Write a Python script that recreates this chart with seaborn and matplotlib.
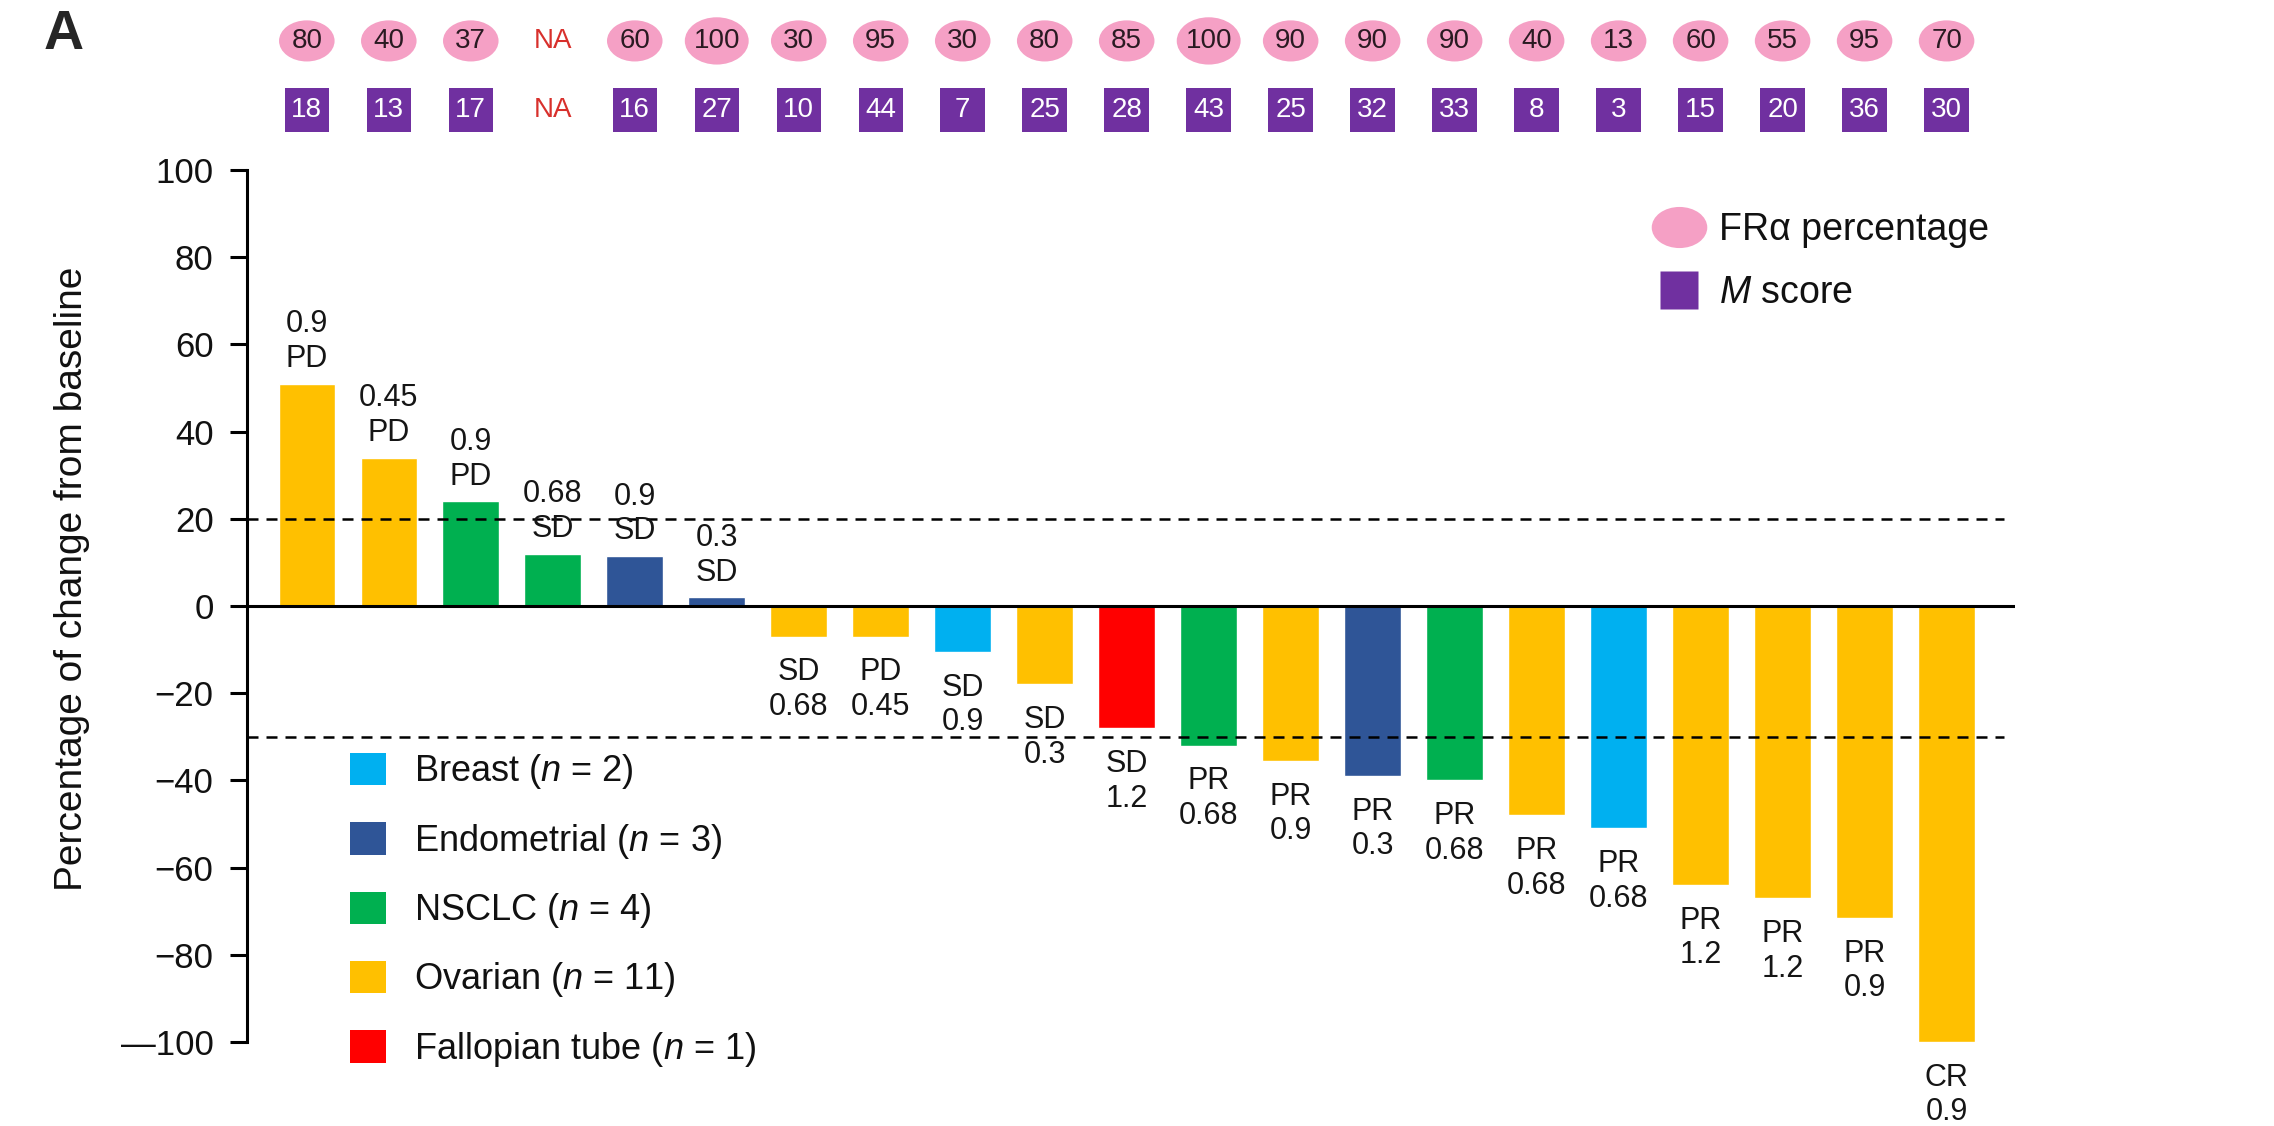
import matplotlib
matplotlib.use("Agg")
import matplotlib.pyplot as plt
from matplotlib.path import Path
from matplotlib.transforms import Affine2D
from matplotlib.patches import Patch
from matplotlib.lines import Line2D
import numpy as np
import pandas as pd
import seaborn as sns

# per-patient data, left to right
cancer = ['Ovarian', 'Ovarian', 'NSCLC', 'NSCLC', 'Endometrial', 'Endometrial',
          'Ovarian', 'Ovarian', 'Breast', 'Ovarian', 'Fallopian tube', 'NSCLC',
          'Ovarian', 'Endometrial', 'NSCLC', 'Ovarian', 'Breast', 'Ovarian',
          'Ovarian', 'Ovarian', 'Ovarian']
change = [51, 34, 24, 12, 11.5, 2, -7, -7, -10.5, -18, -28, -32, -35.5, -39,
          -40, -48, -51, -64, -67, -71.5, -100]
response = ['PD', 'PD', 'PD', 'SD', 'SD', 'SD', 'SD', 'PD', 'SD', 'SD', 'SD',
            'PR', 'PR', 'PR', 'PR', 'PR', 'PR', 'PR', 'PR', 'PR', 'CR']
dose = ['0.9', '0.45', '0.9', '0.68', '0.9', '0.3', '0.68', '0.45', '0.9', '0.3',
        '1.2', '0.68', '0.9', '0.3', '0.68', '0.68', '0.68', '1.2', '1.2', '0.9', '0.9']
fra_pct = ['80', '40', '37', 'NA', '60', '100', '30', '95', '30', '80', '85',
           '100', '90', '90', '90', '40', '13', '60', '55', '95', '70']
m_score = ['18', '13', '17', 'NA', '16', '27', '10', '44', '7', '25', '28',
           '43', '25', '32', '33', '8', '3', '15', '20', '36', '30']

cancer_order = ['Breast', 'Endometrial', 'NSCLC', 'Ovarian', 'Fallopian tube']
cancer_n = [2, 3, 4, 11, 1]
cancer_colors = ['#00B0F0', '#2F5597', '#00B050', '#FFC000', '#FF0000']

ytick_vals = [-100, -80, -60, -40, -20, 0, 20, 40, 60, 80, 100]
ytick_labels = ['\u2014100', '\u221280', '\u221260', '\u221240', '\u221220',
                '0', '20', '40', '60', '80', '100']
thresholds = [20, -30]

sns.set_theme(style='white')
plt.rcParams['font.family'] = ['Liberation Sans', 'DejaVu Sans']
plt.rcParams['mathtext.fontset'] = 'custom'
plt.rcParams['mathtext.rm'] = 'Liberation Sans'
plt.rcParams['mathtext.it'] = 'Liberation Sans:italic'

df = pd.DataFrame({'patient': [str(i + 1) for i in range(len(change))],
                   'change': change, 'cancer': cancer})
pal = dict(zip(cancer_order, cancer_colors))

fig = plt.figure(figsize=(22.74, 11.26), dpi=100)
ax = fig.add_axes([0.1086, 0.0746, 0.7777, 0.7744])
sns.barplot(data=df, x='patient', y='change', hue='cancer', hue_order=cancer_order,
            palette=pal, dodge=False, width=0.69, saturation=1, legend=False, ax=ax)

xlim = (-0.73, 20.84)
ax.set_xlim(xlim)
ax.set_ylim(-100, 100)
ax.set_xticks([])
ax.set_xlabel('')
ax.set_yticks(ytick_vals)
ax.set_yticklabels(ytick_labels)
ax.tick_params(axis='y', left=True, length=12, width=2.2, labelsize=25, color='black',
               labelcolor='#111111', pad=12)
sns.despine(ax=ax, bottom=True)
ax.spines['left'].set_linewidth(2.2)
ax.spines['left'].set_color('black')
ax.set_ylabel('Percentage of change from baseline', fontsize=28, color='#111111')
ax.yaxis.set_label_coords(-0.089, 0.531)

ax.axhline(0, color='black', lw=2.2, zorder=3)
ax.hlines(thresholds, xlim[0], 20.7, colors='black', lw=1.8,
          linestyles=(0, (4.4, 3.2)), zorder=1)

# response / dose labels
for i, v in enumerate(change):
    if v >= 0:
        txt, va, off = f'{dose[i]}\n{response[i]}', 'bottom', 7
    else:
        txt, va, off = f'{response[i]}\n{dose[i]}', 'top', -15
    ax.annotate(txt, (i, v), xytext=(0, off), textcoords='offset points', ha='center',
                va=va, fontsize=22, linespacing=1.2, annotation_clip=False, color='#151515')

# top rows: FRa percentage ellipses and M score squares
ellipse = Path.unit_circle().transformed(Affine2D().scale(1, 0.74))
ax_top = fig.add_axes([0.1086, 0.867, 0.7777, 0.133])
ax_top.set_xlim(xlim)
ax_top.set_ylim(-0.58, 1.594)
ax_top.axis('off')
na_color = '#D8302C'
for i in np.arange(len(fra_pct)):
    if fra_pct[i] == 'NA':
        ax_top.text(i, 1, 'NA', ha='center', va='center', fontsize=20, color=na_color)
    else:
        w = 46 if len(fra_pct[i]) > 2 else 40
        ax_top.scatter([i], [1], s=w ** 2, marker=ellipse, color='#F5A0C5', edgecolors='none')
        ax_top.text(i, 1, fra_pct[i], ha='center', va='center', fontsize=20, color='#2a1a22')
    if m_score[i] == 'NA':
        ax_top.text(i, 0, 'NA', ha='center', va='center', fontsize=20, color=na_color)
    else:
        ax_top.scatter([i], [0], s=32 ** 2, marker='s', color='#7030A0', edgecolors='none')
        ax_top.text(i, 0, m_score[i], ha='center', va='center', fontsize=20, color='white')

# legends
top_handles = [Line2D([], [], ls='', marker=ellipse, markersize=40, color='#F5A0C5', mec='none'),
               Line2D([], [], ls='', marker='s', markersize=28, color='#7030A0', mec='none')]
leg1 = ax.legend(top_handles, ['FR\u03b1 percentage', '$M$ score'], loc='upper left',
                 bbox_to_anchor=(0.7263, 0.8115), bbox_transform=fig.transFigure,
                 frameon=False, fontsize=27, borderpad=0, borderaxespad=0,
                 handlelength=1.48, handletextpad=0.31, labelspacing=0.72,
                 labelcolor='#111111')
ax.add_artist(leg1)

c_handles = [Patch(facecolor=c, edgecolor='none') for c in cancer_colors]
c_labels = [f'{c} ($n$ = {n})' for c, n in zip(cancer_order, cancer_n)]
ax.legend(c_handles, c_labels, loc='upper left', bbox_to_anchor=(0.1458, 0.3478),
          bbox_transform=fig.transFigure, frameon=False, fontsize=26, borderpad=0,
          handlelength=1.0, handleheight=1.0, handletextpad=0.77, labelspacing=0.84,
          labelcolor='#111111')

fig.text(0.019, 0.969, 'A', fontsize=40, fontweight='bold', va='center', ha='left')

fig.savefig('out.png', dpi=100, facecolor='white')
